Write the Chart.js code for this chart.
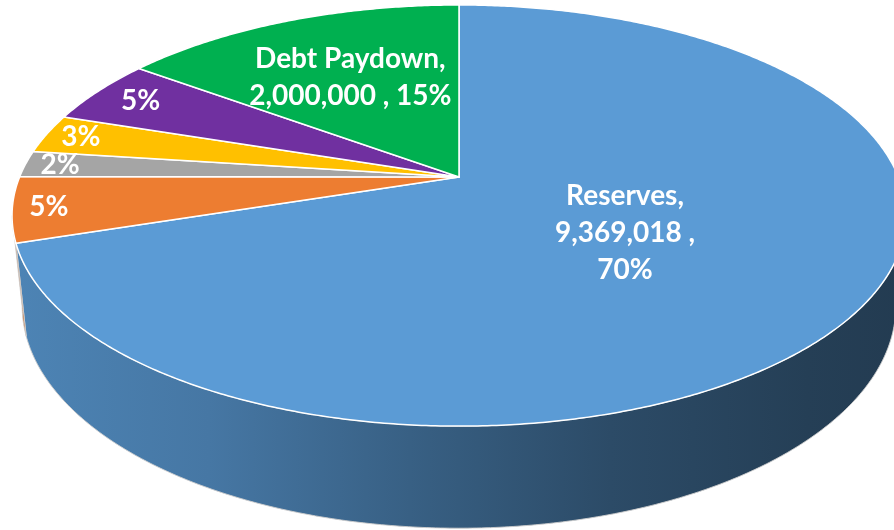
<!DOCTYPE html>
<html><head><meta charset="utf-8">
<script src="https://cdn.jsdelivr.net/npm/chart.js@4/dist/chart.umd.min.js"></script>
<style>html,body{margin:0;padding:0;background:#fff}canvas{display:block}</style>
</head><body>
<canvas id="c" width="894" height="530"></canvas>
<script>
// ---- data ----
const categories = ['Reserves', 'Capital Projects', 'Contingency', 'Equipment', 'Operations', 'Debt Paydown'];
const values = [9369018, 670000, 270000, 400000, 670000, 2000000];
const sliceColors = ['#5b9bd5', '#ed7d31', '#a5a5a5', '#ffc000', '#7030a0', '#00b050'];
const labelStyles = ['full3', 'pct', 'pct', 'pct', 'pct', 'full2'];

function hexToRgb(h) { h = h.replace('#', ''); return [0, 2, 4].map(i => parseInt(h.substr(i, 2), 16)); }
function shade(hex, k) { const c = hexToRgb(hex).map(v => Math.round(v * k)); return `rgb(${c[0]},${c[1]},${c[2]})`; }

const pie3d = {
  id: 'pie3d',
  beforeDatasetsDraw(chart, args, opts) {
    const ctx = chart.ctx;
    const meta = chart.getDatasetMeta(0);
    const arcs = meta.data;
    if (!arcs.length) return false;
    const a0 = arcs[0];
    const cx = a0.x, cy = a0.y;
    const sA = Math.sin(opts.elevation), cA = Math.cos(opts.elevation);
    const R = opts.radiusRatio, h = opts.depth;
    const f = opts.widthScale * a0.outerRadius / R;
    const P = (a, r, t) => {
      const u = r * Math.cos(a), v = r * Math.sin(a);
      const X = R * u, Y = R * v * sA + t * h * cA, Z = 1 + t * h * sA - R * v * cA;
      return [cx + f * X / Z, cy + f * Y / Z];
    };
    const step = Math.PI / 360;
    const k = R * cA;
    const aR = Math.asin(k), aL = Math.PI - Math.asin(k);
    const xL = P(aL, 1, 0)[0], xR = P(aR, 1, 0)[0];
    const ds = chart.data.datasets[0];

    // walls (front-facing part only)
    arcs.forEach((arc, i) => {
      const lo = Math.max(arc.startAngle, aR), hi = Math.min(arc.endAngle, aL);
      if (hi <= lo) return;
      const top = [], bot = [];
      for (let a = lo; a < hi; a += step) { top.push(P(a, 1, 0)); bot.push(P(a, 1, 1)); }
      top.push(P(hi, 1, 0)); bot.push(P(hi, 1, 1));
      ctx.save();
      ctx.beginPath();
      top.forEach((p, j) => j ? ctx.lineTo(p[0], p[1]) : ctx.moveTo(p[0], p[1]));
      for (let j = bot.length - 1; j >= 0; j--) ctx.lineTo(bot[j][0], bot[j][1]);
      ctx.closePath();
      const g = ctx.createLinearGradient(xL, 0, xR, 0);
      const base = ds.backgroundColor[i];
      opts.wallStops.forEach(([pos, kk]) => g.addColorStop(pos, shade(base, kk)));
      ctx.fillStyle = g;
      ctx.fill();
      ctx.strokeStyle = 'rgba(205,205,205,0.9)';
      ctx.lineWidth = 1;
      ctx.stroke();
      ctx.restore();
    });

    // top faces
    arcs.forEach((arc, i) => {
      ctx.save();
      ctx.beginPath();
      const c = P(0, 0, 0);
      ctx.moveTo(c[0], c[1]);
      for (let a = arc.startAngle; a < arc.endAngle; a += step) { const p = P(a, 1, 0); ctx.lineTo(p[0], p[1]); }
      const e = P(arc.endAngle, 1, 0); ctx.lineTo(e[0], e[1]);
      ctx.closePath();
      ctx.fillStyle = ds.backgroundColor[i];
      ctx.fill();
      ctx.strokeStyle = '#ffffff';
      ctx.lineWidth = 1.5;
      ctx.lineJoin = 'round';
      ctx.stroke();
      ctx.restore();
    });

    // labels
    const total = values.reduce((s, v) => s + v, 0);
    ctx.save();
    ctx.fillStyle = '#ffffff';
    ctx.font = opts.font;
    ctx.textAlign = 'center';
    ctx.textBaseline = 'middle';
    arcs.forEach((arc, i) => {
      const pct = Math.round(values[i] / total * 100) + '%';
      const num = values[i].toLocaleString('en-US');
      let lines;
      if (labelStyles[i] === 'full3') lines = [categories[i] + ',', num + ' ,', pct];
      else if (labelStyles[i] === 'full2') lines = [categories[i] + ',', num + ' , ' + pct];
      else lines = [pct];
      const mid = (arc.startAngle + arc.endAngle) / 2;
      const p = P(mid, opts.labelRadius[i], 0);
      const lh = opts.lineHeight;
      lines.forEach((t, j) => ctx.fillText(t, p[0], p[1] + (j - (lines.length - 1) / 2) * lh));
    });
    ctx.restore();
    return false;
  }
};

new Chart(document.getElementById('c'), {
  type: 'pie',
  data: {
    labels: categories,
    datasets: [{ data: values, backgroundColor: sliceColors, borderWidth: 0 }]
  },
  options: {
    responsive: false,
    animation: false,
    events: [],
    layout: { padding: { left: 24, right: 0, top: 0, bottom: 176 } },
    plugins: {
      legend: { display: false },
      tooltip: { enabled: false },
      pie3d: {
        elevation: 0.4816,
        radiusRatio: 0.2065,
        depth: 0.0484,
        widthScale: 2.4825,
        font: 'bold 28px Lato',
        lineHeight: 37,
        labelRadius: [0.445, 0.92, 0.92, 0.915, 0.874, 0.6],
        wallStops: [[0, 0.85], [0.22, 0.77], [0.445, 0.62], [0.67, 0.485], [0.89, 0.405], [1, 0.38]]
      }
    }
  },
  plugins: [pie3d]
});
</script>
</body></html>
